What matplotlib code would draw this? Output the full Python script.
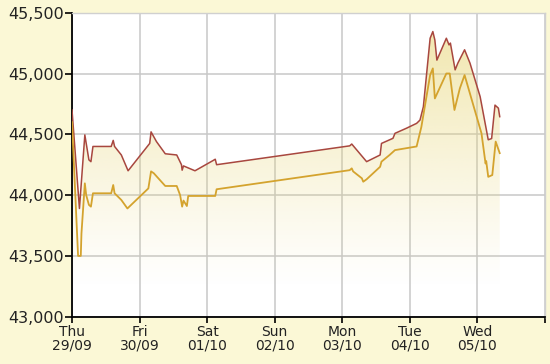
import matplotlib
matplotlib.use("Agg")
import matplotlib.pyplot as plt
import numpy as np
from matplotlib.ticker import FuncFormatter

# time in days since Thu 29/09 00:00
sell_t = [0.00, 0.11, 0.19, 0.25, 0.28, 0.31, 0.58, 0.61, 0.63, 0.73, 0.83, 1.15, 1.17, 1.25,
          1.38, 1.55, 1.62, 1.63, 1.65, 1.82, 2.09, 2.12, 2.14, 4.11, 4.14, 4.36, 4.56, 4.58,
          4.75, 4.78, 4.95, 5.10, 5.15, 5.20, 5.30, 5.34, 5.37, 5.40, 5.54, 5.58, 5.60, 5.67,
          5.71, 5.81, 5.89, 6.04, 6.16, 6.21, 6.26, 6.31, 6.33]
sell_v = [44700, 43890, 44495, 44290, 44275, 44400, 44400, 44450, 44400, 44330, 44200, 44425,
          44520, 44440, 44340, 44330, 44250, 44205, 44240, 44200, 44285, 44295, 44250, 44405,
          44420, 44275, 44330, 44425, 44467, 44508, 44550, 44590, 44617, 44727, 45290, 45345,
          45275, 45110, 45290, 45235, 45250, 45030, 45085, 45195, 45085, 44810, 44455, 44465,
          44740, 44715, 44645]

buy_t = [0.00, 0.09, 0.13, 0.14, 0.19, 0.21, 0.25, 0.28, 0.31, 0.58, 0.61, 0.63, 0.73, 0.82,
         1.13, 1.17, 1.21, 1.38, 1.55, 1.60, 1.63, 1.65, 1.70, 1.72, 2.12, 2.14, 4.11, 4.14,
         4.16, 4.29, 4.31, 4.36, 4.56, 4.58, 4.70, 4.78, 5.10, 5.17, 5.30, 5.34, 5.37, 5.54,
         5.59, 5.66, 5.74, 5.81, 6.06, 6.12, 6.13, 6.16, 6.22, 6.27, 6.33]
buy_v = [44600, 43500, 43500, 43685, 44097, 44000, 43920, 43905, 44015, 44015, 44083, 44015,
         43960, 43890, 44055, 44195, 44180, 44075, 44075, 44000, 43905, 43955, 43910, 43993,
         43993, 44048, 44205, 44220, 44195, 44138, 44110, 44130, 44233, 44275, 44330, 44370,
         44400, 44560, 44987, 45042, 44795, 45000, 45000, 44700, 44878, 44987, 44508, 44260,
         44280, 44150, 44165, 44440, 44345]

day_labels = ["Thu\n29/09", "Fri\n30/09", "Sat\n01/10", "Sun\n02/10",
              "Mon\n03/10", "Tue\n04/10", "Wed\n05/10", ""]
y_ticks = [43000, 43500, 44000, 44500, 45000, 45500]

bg = "#FBF8D6"
fig = plt.figure(figsize=(5.5, 3.64), dpi=100, facecolor=bg)
ax = fig.add_axes([72/550, 1-316.7/364, (545-72)/550, (316.7-12.7)/364])
ax.set_facecolor("white")
ax.set_xlim(0, 7)
ax.set_ylim(43000, 45500)

ax.grid(True, color="#C8C8C8", lw=1.1, zorder=0)
ax.set_axisbelow(True)

# semi-transparent gradient fill under sell line
ymin, ymax = 43000, 45500
n = 256
frac = np.linspace(0, 1, n)
alpha = np.clip((frac - 0.1) / 0.9, 0, 1) ** 1.1 * 0.62
rgba = np.zeros((n, 1, 4))
rgba[:, 0, 0] = 232 / 255
rgba[:, 0, 1] = 214 / 255
rgba[:, 0, 2] = 118 / 255
rgba[:, 0, 3] = alpha
poly = ax.fill_between(sell_t, sell_v, ymin, color="none", lw=0)
im = ax.imshow(rgba, aspect="auto", origin="lower",
               extent=[0, max(sell_t), ymin, ymax], zorder=1)
im.set_clip_path(poly.get_paths()[0], transform=ax.transData)

ax.plot(sell_t, sell_v, color="#A8473F", lw=1.1, zorder=3)
ax.plot(buy_t, buy_v, color="#D4A32E", lw=1.3, zorder=3)

ax.set_xticks(range(8))
ax.set_xticklabels(day_labels, fontsize=10, linespacing=0.95)
ax.set_yticks(y_ticks)
ax.yaxis.set_major_formatter(FuncFormatter(lambda v, p: f"{int(v):,}"))
ax.tick_params(axis="y", labelsize=11.5, length=5, width=1.2, pad=1, colors="black")
ax.tick_params(axis="x", length=4, width=1.2, pad=2, colors="black")
for lab in ax.get_yticklabels() + ax.get_xticklabels():
    lab.set_color("#222222")

for s in ["top", "right"]:
    ax.spines[s].set_color("#D0D0D0")
    ax.spines[s].set_linewidth(1)
ax.spines["left"].set_color("black")
ax.spines["bottom"].set_color("black")
ax.spines["left"].set_linewidth(1.3)
ax.spines["bottom"].set_linewidth(1.3)

fig.savefig("out.png", dpi=100, facecolor=bg)
